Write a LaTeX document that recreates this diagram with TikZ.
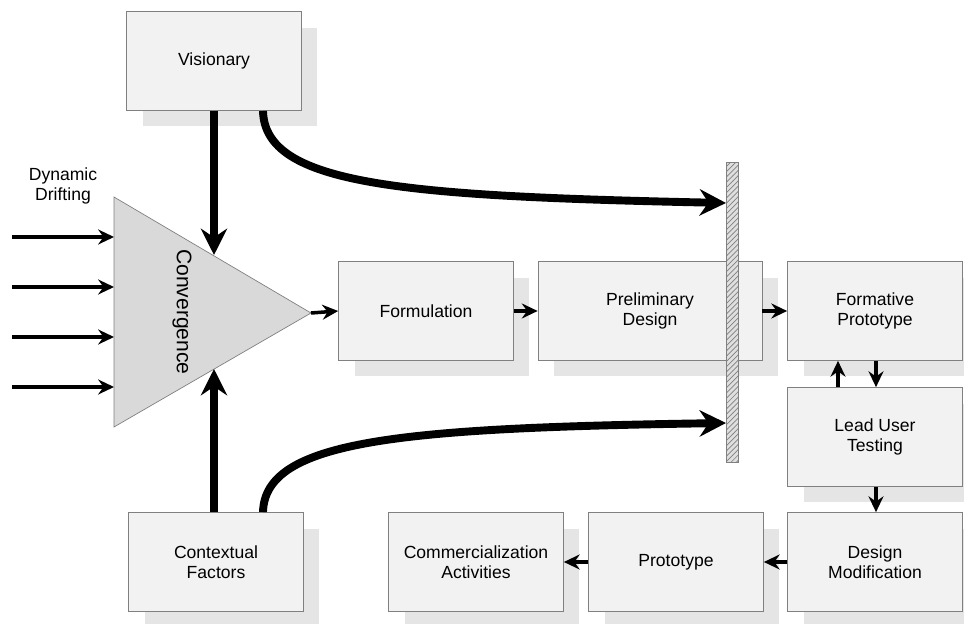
\documentclass[tikz,border=0pt]{standalone}
\usepackage{fontspec}
\setmainfont{Liberation Sans}
\usepackage{tikz}
\usetikzlibrary{shapes,arrows.meta,shadows,patterns,calc,positioning}

\begin{document}
\begin{tikzpicture}[x=0.02cm,y=-0.02cm,font=\fontsize{10}{11.5}\selectfont]
		\tikzstyle{box}=[draw=gray,fill=gray!10,align=center,minimum width=3.5cm,minimum height=1.98cm,general shadow={shadow xshift=0.32cm,shadow yshift=-0.32cm,fill=gray!20}]
		\tikzstyle{wide}=[box,minimum width=4.48cm]
		\tikzstyle{flow}=[line width=2pt,-{Stealth[length=9pt,width=8.5pt,inset=3pt]}]
		\tikzstyle{bigflow}=[line width=4.5pt,-{Stealth[length=15pt,width=15pt,inset=5pt]}]

		\useasboundingbox (0,0) rectangle (964,624);

		% boxes
		\node[box](vis) at (214,61){Visionary};
		\node[box](ctx) at (216,562){Contextual\\Factors};
		\node[box](form) at (426,311){Formulation};
		\node[wide](prel) at (650,311){Preliminary\\Design};
		\node[box](fpro) at (875,311){Formative\\Prototype};
		\node[box](lead) at (875,437){Lead User\\Testing};
		\node[box](dmod) at (875,562){Design\\Modification};
		\node[box](prot) at (676,562){Prototype};
		\node[box](comm) at (476,562){Commercialization\\Activities};

		% convergence
		\draw[draw=gray,fill=gray!30] (114,197) -- (311,313) -- (114,427) -- cycle;
		\coordinate(apex) at (311,313);
		\coordinate(ctop) at (214,255);
		\coordinate(cbot) at (214,369);
		\node[rotate=-90,font=\fontsize{12}{14}\selectfont](conv) at (182,312){Convergence};

		% gate
		\node[draw=gray,fill=gray!25,minimum width=0.24cm,minimum height=6cm,inner sep=0pt,postaction={pattern=north east lines,pattern color=gray}](bar) at (732,312){};
		\coordinate(gup) at (726,203);
		\coordinate(gdn) at (726,423);
		\coordinate(vout) at (263,111);
		\coordinate(cout) at (263,512);

		% dynamic drifting
		\node[align=center](dd) at (63,186){Dynamic\\Drifting};
		\coordinate(d1) at (12,237);
		\coordinate(d2) at (12,287);
		\coordinate(d3) at (12,337);
		\coordinate(d4) at (12,387);
		\draw[flow] (d1) -- (114,237);
		\draw[flow] (d2) -- (114,287);
		\draw[flow] (d3) -- (114,337);
		\draw[flow] (d4) -- (114,387);

		\draw[bigflow] (vis.south -| ctop) -- (ctop);
		\draw[bigflow] (ctx.north -| cbot) -- (cbot);
		\draw[bigflow] (vout) .. controls (265,185) and (400,196) .. (gup);
		\draw[bigflow] (cout) .. controls (265,440) and (400,428) .. (gdn);

		\draw[flow] (apex) -- (form.west);
		\draw[flow] (form.east) -- (prel.west);
		\draw[flow] (prel.east) -- (fpro.west);
		\draw[flow] ([xshift=0.02cm]fpro.south) -- ([xshift=0.02cm]lead.north);
		\draw[flow] ([xshift=-0.74cm]lead.north) -- ([xshift=-0.74cm]fpro.south);
		\draw[flow] ([xshift=0.02cm]lead.south) -- ([xshift=0.02cm]dmod.north);
		\draw[flow] (dmod.west) -- (prot.east);
		\draw[flow] (prot.west) -- (comm.east);
	\end{tikzpicture}
\end{document}
